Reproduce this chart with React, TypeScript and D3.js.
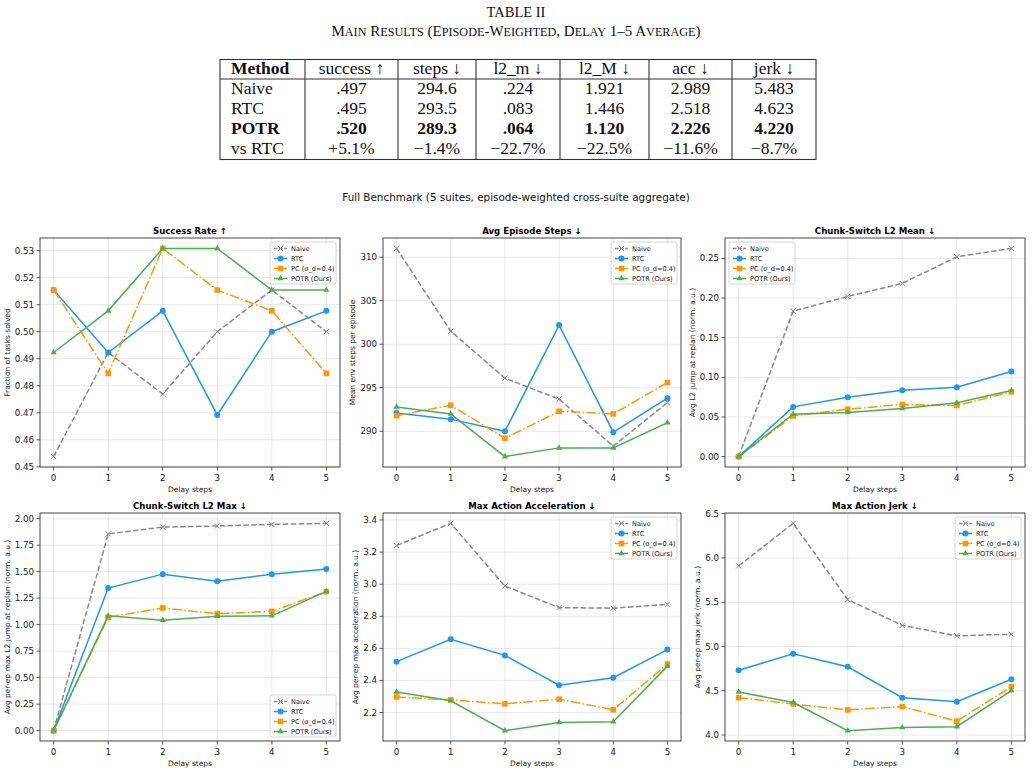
import * as d3 from "d3";

const delays = [0, 1, 2, 3, 4, 5];
const methodNames = ["Naive", "RTC", "PC (σ_d=0.4)", "POTR (Ours)"];
const methodColors = ["#8a8a8a", "#2196F3", "#FF9800", "#4CAF50"];
const methodDash = ["5.5,2.4", "", "9.6,2.4,1.5,2.4", ""];
const methodMarkers = ["x", "circle", "square", "triangle"];

// each metric: one row per method, same order as methodNames
const successRate = [
	[0.4538, 0.4923, 0.4769, 0.5, 0.5154, 0.5],
	[0.5154, 0.4923, 0.5077, 0.4692, 0.5, 0.5077],
	[0.5154, 0.4846, 0.5308, 0.5154, 0.5077, 0.4846],
	[0.4923, 0.5077, 0.5308, 0.5308, 0.5154, 0.5154],
];
const episodeSteps = [
	[311.0, 301.5, 296.1, 293.7, 288.3, 293.3],
	[292.1, 291.4, 290.0, 302.2, 289.9, 293.8],
	[291.8, 293.0, 289.2, 292.3, 292.0, 295.6],
	[292.8, 292.0, 287.1, 288.1, 288.1, 291.0],
];
const l2Mean = [
	[0, 0.1835, 0.202, 0.2184, 0.2521, 0.2626],
	[0, 0.0627, 0.0749, 0.0838, 0.0875, 0.1073],
	[0, 0.0513, 0.0598, 0.0657, 0.0644, 0.0816],
	[0, 0.0535, 0.0556, 0.0606, 0.0678, 0.0833],
];
const l2Max = [
	[0, 1.855, 1.92, 1.93, 1.945, 1.955],
	[0, 1.345, 1.476, 1.408, 1.476, 1.525],
	[0, 1.069, 1.157, 1.103, 1.125, 1.31],
	[0, 1.083, 1.042, 1.079, 1.083, 1.313],
];
const maxAcc = [
	[3.241, 3.379, 2.988, 2.854, 2.85, 2.874],
	[2.517, 2.657, 2.556, 2.37, 2.417, 2.592],
	[2.297, 2.279, 2.254, 2.283, 2.217, 2.502],
	[2.328, 2.273, 2.087, 2.138, 2.143, 2.489],
];
const maxJerk = [
	[5.91, 6.39, 5.53, 5.238, 5.12, 5.138],
	[4.732, 4.917, 4.771, 4.421, 4.376, 4.63],
	[4.422, 4.351, 4.284, 4.321, 4.157, 4.546],
	[4.486, 4.368, 4.05, 4.085, 4.095, 4.502],
];

const successTicks = [0.45, 0.46, 0.47, 0.48, 0.49, 0.5, 0.51, 0.52, 0.53];
const stepsTicks = [290, 295, 300, 305, 310];
const l2MeanTicks = [0, 0.05, 0.1, 0.15, 0.2, 0.25];
const l2MaxTicks = [0, 0.25, 0.5, 0.75, 1.0, 1.25, 1.5, 1.75, 2.0];
const accTicks = [2.2, 2.4, 2.6, 2.8, 3.0, 3.2, 3.4];
const jerkTicks = [4.0, 4.5, 5.0, 5.5, 6.0, 6.5];

const tableHeaders = ["Method", "success ↑", "steps ↓", "l2_m ↓", "l2_M ↓", "acc ↓", "jerk ↓"];
const tableRows = [
	["Naive", ".497", "294.6", ".224", "1.921", "2.989", "5.483"],
	["RTC", ".495", "293.5", ".083", "1.446", "2.518", "4.623"],
	["POTR", ".520", "289.3", ".064", "1.120", "2.226", "4.220"],
	["vs RTC", "+5.1%", "−1.4%", "−22.7%", "−22.5%", "−11.6%", "−8.7%"],
];
const boldRow = 2;

const SANS = "DejaVu Sans, sans-serif";
const SERIF = "Liberation Serif, Times New Roman, serif";

type Loc = "upper right" | "upper left" | "lower right";

interface PanelSpec {
	title: string;
	ylabel: string;
	series: number[][];
	ticks: number[];
	fmt: string;
	legend: Loc;
}

const panels: PanelSpec[] = [
	{ title: "Success Rate ↑", ylabel: "Fraction of tasks solved", series: successRate, ticks: successTicks, fmt: ".2f", legend: "upper right" },
	{ title: "Avg Episode Steps ↓", ylabel: "Mean env steps per episode", series: episodeSteps, ticks: stepsTicks, fmt: "d", legend: "upper right" },
	{ title: "Chunk-Switch L2 Mean ↓", ylabel: "Avg L2 jump at replan (norm. a.u.)", series: l2Mean, ticks: l2MeanTicks, fmt: ".2f", legend: "upper left" },
	{ title: "Chunk-Switch L2 Max ↓", ylabel: "Avg per-ep max L2 jump at replan (norm. a.u.)", series: l2Max, ticks: l2MaxTicks, fmt: ".2f", legend: "lower right" },
	{ title: "Max Action Acceleration ↓", ylabel: "Avg per-ep max acceleration (norm. a.u.)", series: maxAcc, ticks: accTicks, fmt: ".1f", legend: "upper right" },
	{ title: "Max Action Jerk ↓", ylabel: "Avg per-ep max jerk (norm. a.u.)", series: maxJerk, ticks: jerkTicks, fmt: ".1f", legend: "upper right" },
];

const COLS: [number, number][] = [
	[40, 340],
	[383, 681],
	[725, 1025],
];
const ROWS: [number, number][] = [
	[238, 467],
	[513, 741],
];

const TICK_FS = 8.7;

function Marker({ kind, cx, cy, color }: { kind: string; cx: number; cy: number; color: string }) {
	if (kind === "x") {
		const s = 2.6;
		return (
			<g stroke={color} strokeWidth={1}>
				<line x1={cx - s} y1={cy - s} x2={cx + s} y2={cy + s} />
				<line x1={cx - s} y1={cy + s} x2={cx + s} y2={cy - s} />
			</g>
		);
	}
	if (kind === "circle") return <circle cx={cx} cy={cy} r={3} fill={color} />;
	if (kind === "square") return <rect x={cx - 2.8} y={cy - 2.8} width={5.6} height={5.6} fill={color} />;
	const r = 3.6;
	return (
		<polygon
			points={`${cx},${cy - r} ${cx + r * 0.87},${cy + r * 0.5} ${cx - r * 0.87},${cy + r * 0.5}`}
			fill={color}
		/>
	);
}

function textWidth(s: string, fs: number) {
	let w = 0;
	for (const c of s) w += c === "." ? 0.318 : c === "-" ? 0.361 : 0.636;
	return w * fs;
}

function Panel({ spec, left, right, top, bottom }: { spec: PanelSpec; left: number; right: number; top: number; bottom: number }) {
	const x = d3.scaleLinear().domain([-0.25, 5.25]).range([left, right]);
	const all = spec.series.flat();
	const mn = d3.min(all) as number;
	const mx = d3.max(all) as number;
	const pad = (mx - mn) * 0.05;
	const y = d3.scaleLinear().domain([mn - pad, mx + pad]).range([bottom, top]);
	const [d0, d1] = y.domain();
	const yTicks = spec.ticks.filter((t) => t >= d0 - 1e-6 && t <= d1 + 1e-6);
	const fmt = d3.format(spec.fmt);
	const line = d3
		.line<number>()
		.x((_, i) => x(delays[i]))
		.y((v) => y(v));

	const labelW = d3.max(yTicks, (t) => textWidth(fmt(t), TICK_FS)) ?? 0;
	const ylabelX = left - 6 - labelW - 5;

	// legend box
	const lw = 66;
	const lh = 42;
	let lx = right - 4 - lw;
	let ly = top + 4;
	if (spec.legend === "upper left") lx = left + 4;
	if (spec.legend === "lower right") ly = bottom - 4 - lh;

	return (
		<g>
			{/* grid */}
			<g stroke="#b0b0b0" strokeOpacity={0.35} strokeWidth={0.8}>
				{delays.map((d) => (
					<line key={`gx${d}`} x1={x(d)} x2={x(d)} y1={top} y2={bottom} />
				))}
				{yTicks.map((t) => (
					<line key={`gy${t}`} x1={left} x2={right} y1={y(t)} y2={y(t)} />
				))}
			</g>
			{/* series */}
			{spec.series.map((vals, m) => (
				<g key={m}>
					<path
						d={line(vals) ?? ""}
						fill="none"
						stroke={methodColors[m]}
						strokeWidth={1.5}
						strokeDasharray={methodDash[m] || undefined}
					/>
					{vals.map((v, i) => (
						<Marker key={i} kind={methodMarkers[m]} cx={x(delays[i])} cy={y(v)} color={methodColors[m]} />
					))}
				</g>
			))}
			{/* spines */}
			<rect x={left} y={top} width={right - left} height={bottom - top} fill="none" stroke="#333" strokeWidth={0.9} />
			{/* ticks */}
			<g fontFamily={SANS} fontSize={TICK_FS} fill="#222">
				{delays.map((d) => (
					<g key={`xt${d}`}>
						<line x1={x(d)} x2={x(d)} y1={bottom} y2={bottom + 3.5} stroke="#333" strokeWidth={0.8} />
						<text x={x(d)} y={bottom + 13.5} textAnchor="middle">
							{d}
						</text>
					</g>
				))}
				{yTicks.map((t) => (
					<g key={`yt${t}`}>
						<line x1={left - 3.5} x2={left} y1={y(t)} y2={y(t)} stroke="#333" strokeWidth={0.8} />
						<text x={left - 6} y={y(t)} dy="0.35em" textAnchor="end">
							{fmt(t)}
						</text>
					</g>
				))}
			</g>
			<text x={(left + right) / 2} y={bottom + 24.5} textAnchor="middle" fontFamily={SANS} fontSize={7.5} fill="#222">
				Delay steps
			</text>
			<text
				transform={`translate(${ylabelX},${(top + bottom) / 2}) rotate(-90)`}
				textAnchor="middle"
				fontFamily={SANS}
				fontSize={7.5}
				fill="#222"
			>
				{spec.ylabel}
			</text>
			<text x={(left + right) / 2} y={top - 4} textAnchor="middle" fontFamily={SANS} fontSize={8.6} fontWeight="bold" fill="#000">
				{spec.title}
			</text>
			{/* legend */}
			<g>
				<rect x={lx} y={ly} width={lw} height={lh} rx={2} fill="#fff" fillOpacity={0.85} stroke="#cccccc" strokeWidth={0.8} />
				{methodNames.map((name, m) => {
					const ry = ly + 6.5 + m * 10;
					return (
						<g key={name}>
							<line
								x1={lx + 4}
								x2={lx + 17}
								y1={ry}
								y2={ry}
								stroke={methodColors[m]}
								strokeWidth={1.5}
								strokeDasharray={m === 0 ? "3.5,1.6" : m === 2 ? "5,1.5,1,1.5" : undefined}
							/>
							<Marker kind={methodMarkers[m]} cx={lx + 10.5} cy={ry} color={methodColors[m]} />
							<text x={lx + 21} y={ry} dy="0.35em" fontFamily={SANS} fontSize={6.6} fill="#222">
								{name}
							</text>
						</g>
					);
				})}
			</g>
		</g>
	);
}

const TABLE_X = [220, 305, 398, 476, 560, 649, 732, 816];
const TABLE_TOP = 59.5;
const TABLE_HEAD = 79;
const TABLE_BOTTOM = 159.5;
const ROW_Y = [68, 88.3, 108.3, 128.3, 148.3];

// caption in small caps: capitals full size, lowercase letters as smaller capitals
function SmallCaps({ text, big, small }: { text: string; big: number; small: number }) {
	const parts: { s: string; low: boolean }[] = [];
	for (const ch of text) {
		const low = ch !== ch.toUpperCase();
		const last = parts[parts.length - 1];
		if (last && last.low === low) last.s += ch;
		else parts.push({ s: ch, low });
	}
	return (
		<>
			{parts.map((p, i) => (
				<tspan key={i} fontSize={p.low ? small : big}>
					{p.low ? p.s.toUpperCase() : p.s}
				</tspan>
			))}
		</>
	);
}

function ResultsTable() {
	const cx = TABLE_X.slice(0, -1).map((v, i) => (v + TABLE_X[i + 1]) / 2);
	const cells = [tableHeaders, ...tableRows];
	return (
		<g fontFamily={SERIF} fill="#111">
			<text x={516} y={17} textAnchor="middle" fontSize={14.5}>
				TABLE II
			</text>
			<text x={516} y={36} textAnchor="middle">
				<SmallCaps text="Main Results (Episode-Weighted, Delay 1–5 Average)" big={15} small={12.2} />
			</text>
			<g stroke="#333" strokeWidth={1.1}>
				<rect x={TABLE_X[0]} y={TABLE_TOP} width={TABLE_X[7] - TABLE_X[0]} height={TABLE_BOTTOM - TABLE_TOP} fill="none" />
				<line x1={TABLE_X[0]} x2={TABLE_X[7]} y1={TABLE_HEAD} y2={TABLE_HEAD} />
				{TABLE_X.slice(1, -1).map((v) => (
					<line key={v} x1={v} x2={v} y1={TABLE_TOP} y2={TABLE_BOTTOM} />
				))}
			</g>
			{cells.map((row, r) =>
				row.map((cell, c) => (
					<text
						key={`${r}-${c}`}
						x={c === 0 ? TABLE_X[0] + 11 : cx[c]}
						y={ROW_Y[r]}
						dy="0.33em"
						textAnchor={c === 0 ? "start" : "middle"}
						fontSize={17.5}
						fontWeight={(r === 0 && c === 0) || r === boldRow + 1 ? "bold" : "normal"}
					>
						{cell}
					</text>
				)),
			)}
		</g>
	);
}

export default function App() {
	return (
		<svg width={1032} height={772} style={{ position: "absolute", left: 0, top: 0, background: "#fff" }}>
			<rect width={1032} height={772} fill="#fff" />
			<ResultsTable />
			<text x={516} y={197} dy="0.35em" textAnchor="middle" fontFamily={SANS} fontSize={10.4} fill="#111">
				Full Benchmark (5 suites, episode-weighted cross-suite aggregate)
			</text>
			{panels.map((p, i) => {
				const [left, right] = COLS[i % 3];
				const [top, bottom] = ROWS[Math.floor(i / 3)];
				return <Panel key={p.title} spec={p} left={left} right={right} top={top} bottom={bottom} />;
			})}
		</svg>
	);
}
